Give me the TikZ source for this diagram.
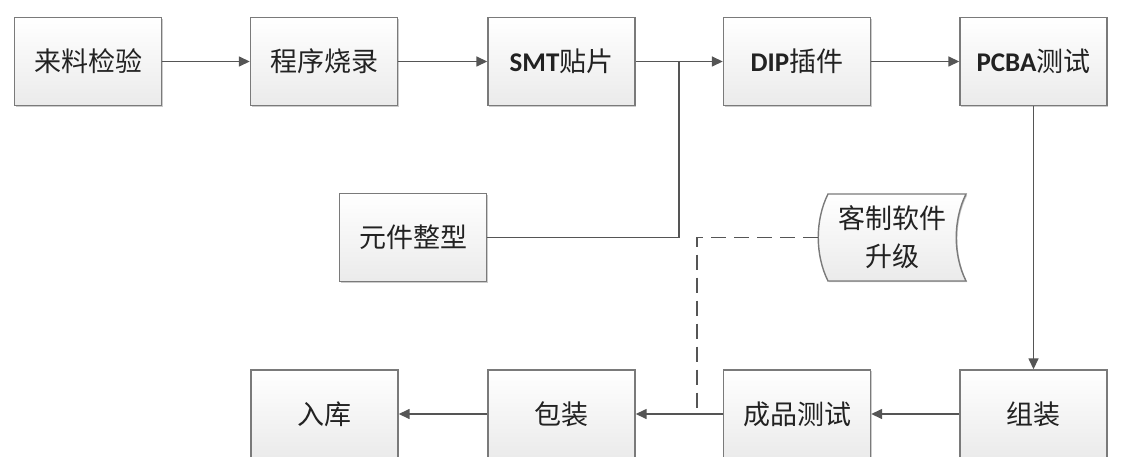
\documentclass[tikz,border=0pt]{standalone}
\usepackage{fontspec}
\setmainfont{Noto Sans CJK SC}
\newfontfamily\latb{Carlito}
\usetikzlibrary{arrows.meta,shadows}
\definecolor{edgec}{HTML}{7A7A7A}
\definecolor{lnc}{HTML}{555555}
\definecolor{txtc}{HTML}{222222}
\tikzset{
  box/.style={draw=edgec, line width=1.4pt, top color=white, bottom color=black!8,
    minimum width=147pt, minimum height=88pt, inner sep=0pt,
    font=\fontsize{27}{30}\selectfont, text=txtc,
    drop shadow={shadow xshift=1.2pt, shadow yshift=-1.2pt, opacity=0.2, fill=black}},
  conn/.style={draw=lnc, line width=1.5pt},
  arr/.style={conn, -{Triangle[length=11pt,width=10pt]}},
  dashline/.style={conn, dash pattern=on 15pt off 8pt},
}
\newcommand{\Lb}[1]{{\latb\bfseries\fontsize{27}{30}\selectfont #1}}
\begin{document}
\begin{tikzpicture}[x=1pt,y=1pt]
\useasboundingbox (0,0) rectangle (1121,-457);
% top row
\node[box] (a1) at (88,-61.5) {来料检验};
\node[box] (a2) at (324,-61.5) {程序烧录};
\node[box] (a3) at (561.5,-61.5) {\Lb{SMT}贴片};
\node[box] (a4) at (797,-61.5) {\Lb{DIP}插件};
\node[box] (a5) at (1033.5,-61.5) {\Lb{PCBA}测试};
% middle
\node[box] (c1) at (413,-237.5) {元件整型};
\path[draw=edgec, line width=1.4pt, top color=white, bottom color=black!8,
  drop shadow={shadow xshift=1.2pt, shadow yshift=-1.2pt, opacity=0.2, fill=black}]
  (828,-194) .. controls (815,-220) and (815,-255) .. (828,-281) -- (966,-281)
  .. controls (953,-255) and (953,-220) .. (966,-194) -- cycle;
\node[minimum width=148pt, minimum height=87pt, inner sep=0pt, align=center,
  font=\fontsize{27}{38}\selectfont, text=txtc] (tp) at (892,-237.5) {客制软件\\升级};
% bottom row
\node[box] (b1) at (324.5,-414) {入库};
\node[box] (b2) at (561.5,-414) {包装};
\node[box] (b3) at (797,-414) {成品测试};
\node[box] (b4) at (1033.5,-414) {组装};
% connectors
\coordinate (j) at (679,-61.5);
\coordinate (d1) at (697,-237.5);
\coordinate (d2) at (697,-414);
\draw[arr] (a1) -- (a2);
\draw[arr] (a2) -- (a3);
\draw[arr] (a3) -- (a4);
\draw[arr] (a4) -- (a5);
\draw[conn] (c1.east) -| (j);
\draw[arr] (a5) -- (b4);
\draw[arr] (b4) -- (b3);
\draw[arr] (b3) -- (b2);
\draw[arr] (b2) -- (b1);
\draw[dashline] (tp.west) -- (d1) -- (d2);
\end{tikzpicture}
\end{document}
